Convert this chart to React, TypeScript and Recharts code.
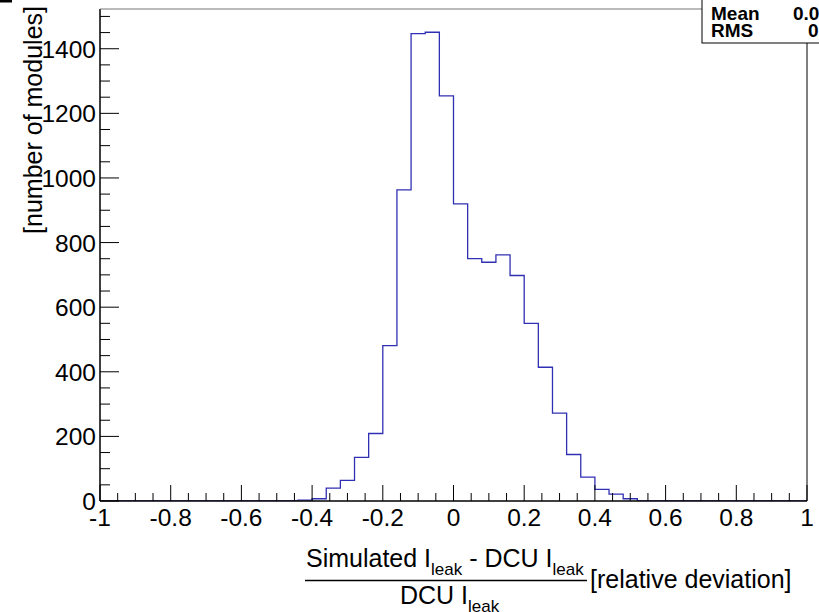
import { ComposedChart, Line, XAxis, YAxis } from 'recharts'

// histogram: 50 bins of width 0.04 from -1 to 1
const BIN_START = -1
const BIN_WIDTH = 0.04
const COUNTS = [
  0, 0, 0, 0, 0, 0, 0, 0, 0, 0,
  0, 0, 0, 0, 3, 7, 40, 64, 135, 209,
  481, 963, 1447, 1451, 1254, 920, 750, 739, 762, 698,
  550, 414, 272, 144, 74, 36, 21, 7, 0, 0,
  0, 0, 0, 0, 0, 0, 0, 0, 0, 0,
]

const X_MAJOR = [-1, -0.8, -0.6, -0.4, -0.2, 0, 0.2, 0.4, 0.6, 0.8, 1]
const X_MINOR_STEP = 0.05
const Y_MAJOR = [0, 200, 400, 600, 800, 1000, 1200, 1400]
const Y_MINOR_STEP = 50
const Y_MAX = 1523

const STAT_NAMES = ['Mean', 'RMS']
const STAT_VALUES = ['0.01472', '0.1427']

const W = 819
const H = 612
const PLOT = { left: 100, top: 9, right: 807, bottom: 501 }
const FONT = '"Liberation Sans", Arial, sans-serif'
const HIST_COLOR = '#3030b4'

const histData = [
  ...COUNTS.map((n, i) => ({ x: +(BIN_START + i * BIN_WIDTH).toFixed(2), n })),
  { x: +(BIN_START + COUNTS.length * BIN_WIDTH).toFixed(2), n: COUNTS[COUNTS.length - 1] },
]

const xTicks: number[] = []
X_MAJOR.forEach((v, i) => {
  if (i === X_MAJOR.length - 1) { xTicks.push(v); return }
  for (let k = 0; k < 4; k++) xTicks.push(+(v + k * X_MINOR_STEP).toFixed(2))
})

const yTicks: number[] = []
for (let v = 0; v <= Y_MAX; v += Y_MINOR_STEP) yTicks.push(v)

const isXMajor = (v: number) => X_MAJOR.some((m) => Math.abs(m - v) < 1e-6)
const isYMajor = (v: number) => Y_MAJOR.includes(v)

function XTick({ x, y, payload }: any) {
  const major = isXMajor(payload.value)
  return (
    <g>
      <line x1={x} x2={x} y1={y} y2={y - (major ? 16 : 8)} stroke="#000" strokeWidth={1} />
      {major && (
        <text x={x} y={y + 25} textAnchor="middle" fontFamily={FONT} fontSize={24.5} fill="#000">
          {String(payload.value)}
        </text>
      )}
    </g>
  )
}

function YTick({ x, y, payload }: any) {
  const major = isYMajor(payload.value)
  return (
    <g>
      <line x1={x} x2={x + (major ? 19 : 10)} y1={y} y2={y} stroke="#000" strokeWidth={1} />
      {major && (
        <text x={x - 4} y={y + 9} textAnchor="end" fontFamily={FONT} fontSize={24.5} fill="#000">
          {String(payload.value)}
        </text>
      )}
    </g>
  )
}

function Overlay() {
  return (
    <svg
      width={W}
      height={H}
      style={{ position: 'absolute', left: 0, top: 0, pointerEvents: 'none' }}
    >
      <rect x={0} y={0} width={12} height={2.5} fill="#000" />
      {/* frame */}
      <line x1={PLOT.left} x2={PLOT.right} y1={PLOT.top} y2={PLOT.top} stroke="#777" strokeWidth={1.2} />
      <line x1={PLOT.right} x2={PLOT.right} y1={PLOT.top} y2={PLOT.bottom} stroke="#000" strokeWidth={1} />
      {/* stats box */}
      <rect x={702} y={-2} width={130} height={45} fill="#fff" stroke="#000" strokeWidth={1} />
      {STAT_NAMES.map((name, i) => (
        <g key={name} fontFamily={FONT} fontWeight="bold" fontSize={19} fill="#000">
          <text x={711} y={20 + i * 17}>{name}</text>
          <text x={i === 0 ? 793 : 808} y={20 + i * 17}>{STAT_VALUES[i]}</text>
        </g>
      ))}
      {/* y title */}
      <text
        x={42}
        y={6}
        transform="rotate(-90, 42, 6)"
        textAnchor="end"
        fontFamily={FONT}
        fontSize={25}
        fill="#000"
      >
        [number of modules]
      </text>
      {/* x title */}
      <g fontFamily={FONT} fill="#000">
        <text x={306} y={567} fontSize={25}>
          Simulated I
          <tspan fontSize={17} dy={8}>leak</tspan>
          <tspan dy={-8}> - DCU I</tspan>
          <tspan fontSize={17} dy={8}>leak</tspan>
        </text>
        <line x1={305} x2={587} y1={580.5} y2={580.5} stroke="#000" strokeWidth={1.5} />
        <text x={400} y={604} fontSize={25}>
          DCU I
          <tspan fontSize={17} dy={8}>leak</tspan>
        </text>
        <text x={590} y={588} fontSize={25}>[relative deviation]</text>
      </g>
    </svg>
  )
}

export default function App() {
  return (
    <div style={{ position: 'absolute', left: 0, top: 0, width: W, height: H, overflow: 'hidden', background: '#fff' }}>
      <ComposedChart
        width={W}
        height={H}
        data={histData}
        margin={{ top: PLOT.top, right: W - PLOT.right, left: 0, bottom: 0 }}
      >
        <XAxis
          dataKey="x"
          type="number"
          domain={[-1, 1]}
          ticks={xTicks}
          interval={0}
          height={H - PLOT.bottom}
          tickSize={0}
          tickMargin={0}
          tickLine={false}
          axisLine={{ stroke: '#000', strokeWidth: 1.5 }}
          tick={(p: any) => <XTick {...p} />}
        />
        <YAxis
          type="number"
          domain={[0, Y_MAX]}
          ticks={yTicks}
          interval={0}
          width={PLOT.left}
          tickSize={0}
          tickMargin={0}
          tickLine={false}
          axisLine={{ stroke: '#000', strokeWidth: 1.5 }}
          tick={(p: any) => <YTick {...p} />}
          allowDataOverflow
        />
        <Line
          type="stepAfter"
          dataKey="n"
          stroke={HIST_COLOR}
          strokeWidth={1.3}
          dot={false}
          activeDot={false}
          isAnimationActive={false}
        />
      </ComposedChart>
      <Overlay />
    </div>
  )
}
